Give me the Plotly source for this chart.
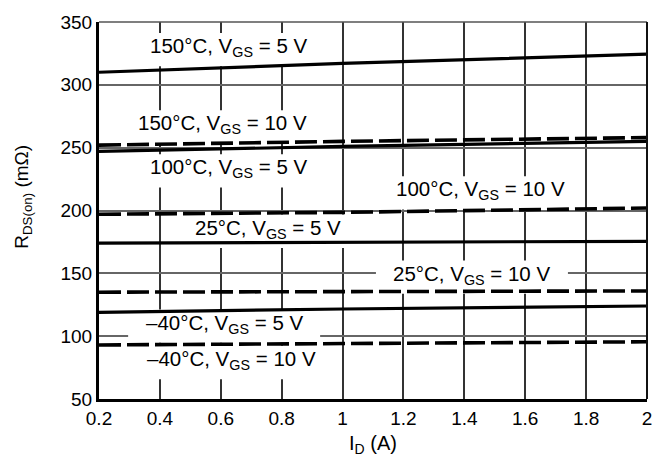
import plotly.graph_objects as go

# Drain current samples (A)
id_a = [0.2, 1.0, 2.0]

# On-resistance (mOhm) per curve
r_150_5 = [310, 317, 324.5]
r_150_10 = [252, 255, 258]
r_100_5 = [247, 251, 255]
r_100_10 = [197, 198.5, 202]
r_25_5 = [174, 174.8, 175.5]
r_25_10 = [135, 135.3, 136]
r_m40_5 = [119, 121.6, 124]
r_m40_10 = [93, 94, 95.5]

curves = [
    (r_150_5, "solid"), (r_150_10, "dash"),
    (r_100_5, "solid"), (r_100_10, "dash"),
    (r_25_5, "solid"), (r_25_10, "dash"),
    (r_m40_5, "solid"), (r_m40_10, "dash"),
]

label_texts = [
    "150°C, V<sub>GS</sub> = 5 V",
    "150°C, V<sub>GS</sub> = 10 V",
    "100°C, V<sub>GS</sub> = 5 V",
    "100°C, V<sub>GS</sub> = 10 V",
    "25°C, V<sub>GS</sub> = 5 V",
    "25°C, V<sub>GS</sub> = 10 V",
    "–40°C, V<sub>GS</sub> = 5 V",
    "–40°C, V<sub>GS</sub> = 10 V",
]

# label placement: (x, y, box half-width in px)
label_pos = [
    (0.624, 330.0, 96),
    (0.604, 268.5, 102),
    (0.624, 233.5, 96),
    (1.452, 216.0, 102),
    (0.755, 185.5, 90),
    (1.425, 149.0, 96),
    (0.611, 110.0, 96),
    (0.634, 81.0, 103),
]

W, H = 666, 459
M = dict(l=99, r=19, t=15, b=60)
XR, YR = [0.2, 2.0], [50, 350]
plot_w = W - M["l"] - M["r"]
plot_h = H - M["t"] - M["b"]
px_per_x = plot_w / (XR[1] - XR[0])
px_per_y = plot_h / (YR[1] - YR[0])
BOX_HALF_H = 17

FONT = "Liberation Sans, Arial, Helvetica, sans-serif"

fig = go.Figure()
for vals, dash in curves:
    fig.add_trace(go.Scatter(
        x=id_a, y=vals, mode="lines", showlegend=False, hoverinfo="skip",
        line=dict(color="black", width=3.2 if dash == "solid" else 3.6,
                  dash="solid" if dash == "solid" else "22px,6px"),
    ))

shapes = []
annotations = []
for text, (lx, ly, hw) in zip(label_texts, label_pos):
    shapes.append(dict(
        type="rect", xref="x", yref="y", layer="between",
        x0=lx - hw / px_per_x, x1=lx + hw / px_per_x,
        y0=ly - BOX_HALF_H / px_per_y - 2, y1=ly + BOX_HALF_H / px_per_y - 2,
        fillcolor="white", line=dict(width=0),
    ))
    annotations.append(dict(
        x=lx, y=ly, xref="x", yref="y", text=text, showarrow=False,
        xanchor="center", yanchor="middle",
        font=dict(family=FONT, size=20.5, color="black"),
    ))

# axis titles
annotations.append(dict(
    x=0.5, y=-46 / plot_h, xref="paper", yref="paper",
    text="I<sub>D</sub> (A)", showarrow=False, xanchor="center", yanchor="middle",
    font=dict(family=FONT, size=20, color="black"),
))
annotations.append(dict(
    x=(23 - M["l"]) / plot_w, y=(plot_h + M["t"] - 193) / plot_h,
    xref="paper", yref="paper", textangle=-90,
    text="R<sub>DS(on)</sub> (mΩ)", showarrow=False, xanchor="center", yanchor="middle",
    font=dict(family=FONT, size=19, color="black"),
))

# thin frame on top and right
shapes.append(dict(type="line", xref="paper", yref="paper", x0=0, x1=1, y0=1, y1=1,
                   line=dict(color="#555", width=1.5), layer="above"))
shapes.append(dict(type="line", xref="paper", yref="paper", x0=1, x1=1, y0=0, y1=1,
                   line=dict(color="#111", width=2), layer="above"))

fig.update_layout(
    width=W, height=H, margin=M,
    paper_bgcolor="white", plot_bgcolor="white",
    font=dict(family=FONT, size=19, color="black"),
    shapes=shapes, annotations=annotations,
    xaxis=dict(
        range=XR, dtick=0.2, tick0=0.2, showgrid=True, gridcolor="#333", gridwidth=1.5,
        zeroline=False, showline=True, linecolor="black", linewidth=3,
        ticks="", tickfont=dict(size=19),
    ),
    yaxis=dict(
        range=YR, dtick=50, showgrid=True, gridcolor="#666", gridwidth=1.5,
        zeroline=False, showline=True, linecolor="black", linewidth=3,
        ticks="", tickfont=dict(size=19),
    ),
)

fig.write_html("out.html")
